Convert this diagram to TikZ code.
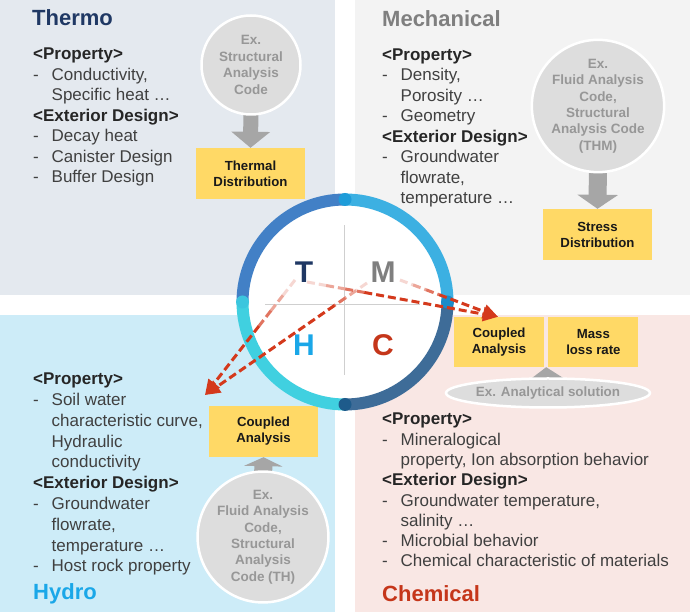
\documentclass[tikz,border=0pt]{standalone}
\usepackage{fontspec}
\setmainfont{Liberation Sans}
\usepackage{xcolor}
\usetikzlibrary{positioning, arrows.meta, calc, shapes.geometric}

\definecolor{thermobg}{HTML}{E4E9EF}
\definecolor{mechbg}{HTML}{F3F3F3}
\definecolor{hydrobg}{HTML}{CDECF8}
\definecolor{chembg}{HTML}{F9E7E4}
\definecolor{navy}{HTML}{1F3864}
\definecolor{mgray}{HTML}{7F7F7F}
\definecolor{hblue}{HTML}{1AA7E8}
\definecolor{cred}{HTML}{C5361A}
\definecolor{arrred}{HTML}{D4391C}
\definecolor{boxyellow}{HTML}{FFD966}
\definecolor{circgray}{HTML}{DDDDDD}
\definecolor{circtext}{HTML}{979797}
\definecolor{arrgray}{HTML}{A6A6A6}
\definecolor{bodytext}{HTML}{404040}
\definecolor{headtext}{HTML}{262626}
\definecolor{linegray}{HTML}{CFCFCF}
\definecolor{ringtl}{HTML}{4280C6}
\definecolor{ringtr}{HTML}{3CB0E2}
\definecolor{ringbr}{HTML}{3E6C98}
\definecolor{ringbl}{HTML}{40D0E0}
\definecolor{dott}{HTML}{1E9CD9}
\definecolor{dotl}{HTML}{3CC6DE}
\definecolor{dotr}{HTML}{1A8CCB}
\definecolor{dotb}{HTML}{1E5B8B}

\newcommand{\itemdash}{\makebox[18.5pt][l]{-}}
\newcommand{\itemgap}{\hspace*{18.5pt}}
\newcommand{\hdr}[1]{\textcolor{headtext}{\textbf{#1}}}

\tikzset{
  bodytxt/.style={anchor=base west, align=left, inner sep=0pt, text=bodytext,
    font=\fontsize{17}{20.5}\selectfont},
  title/.style={anchor=base west, inner sep=0pt, font=\fontsize{22}{22}\selectfont\bfseries},
  ybox/.style={fill=boxyellow, minimum width=109pt, minimum height=51pt, align=center,
    inner sep=0pt, text=black!90, font=\fontsize{13.2}{16}\selectfont\bfseries},
  gcirc/.style={circle, fill=circgray, draw=white, line width=2.5pt, inner sep=0pt,
    align=center, text=circtext, font=\fontsize{13.5}{16.4}\selectfont\bfseries},
  gell/.style={ellipse, fill=circgray, draw=white, line width=2.5pt, inner sep=0pt,
    minimum width=188pt, minimum height=29pt, text=circtext,
    font=\fontsize{13.4}{16}\selectfont\bfseries},
  letter/.style={inner sep=0pt, font=\fontsize{30}{30}\selectfont\bfseries},
  reddash/.style={line width=3pt, dash pattern=on 8pt off 4pt},
  blockarr/.style={draw=arrgray}
}

\begin{document}
\begin{tikzpicture}[x=1pt, y=1pt]
    \useasboundingbox (0,0) rectangle (691,613);

    % quadrants
    \fill[thermobg] (0,318) rectangle (335,613);
    \fill[mechbg] (355,318) rectangle (690,613);
    \fill[hydrobg] (0,1) rectangle (335,298);
    \fill[chembg] (355,1) rectangle (690,298);

    % titles and lists (base = last line)
    \node[title, text=navy] (thtitle) at (32,587) {Thermo};
    \node[title, text=mgray] (metitle) at (382,586) {Mechanical};
    \node[title, text=hblue] (hytitle) at (33,13) {Hydro};
    \node[title, text=cred] (chtitle) at (382,11) {Chemical};

    \node[bodytxt] (thtxt) at (33,430) {\hdr{<Property>}\\
        \itemdash Conductivity,\\
        \itemgap Specific heat …\\
        \hdr{<Exterior Design>}\\
        \itemdash Decay heat\\
        \itemdash Canister Design\\
        \itemdash Buffer Design};
    \node[bodytxt] (metxt) at (382,409) {\hdr{<Property>}\\
        \itemdash Density,\\
        \itemgap Porosity …\\
        \itemdash Geometry\\
        \hdr{<Exterior Design>}\\
        \itemdash Groundwater\\
        \itemgap flowrate,\\
        \itemgap temperature …};
    \node[bodytxt, font=\fontsize{17}{20.8}\selectfont] (hytxt) at (33,41) {\hdr{<Property>}\\
        \itemdash Soil water\\
        \itemgap characteristic curve,\\
        \itemgap Hydraulic\\
        \itemgap conductivity\\
        \hdr{<Exterior Design>}\\
        \itemdash Groundwater\\
        \itemgap flowrate,\\
        \itemgap temperature …\\
        \itemdash Host rock property};
    \node[bodytxt, font=\fontsize{17}{20.3}\selectfont] (chtxt) at (382,46) {\hdr{<Property>}\\
        \itemdash Mineralogical\\
        \itemgap property, Ion absorption behavior\\
        \hdr{<Exterior Design>}\\
        \itemdash Groundwater temperature,\\
        \itemgap salinity …\\
        \itemdash Microbial behavior\\
        \itemdash Chemical characteristic of materials};

    % results and codes
    \node[ybox] (thbox) at (250.5,439.5) {Thermal\\Distribution};
    \node[ybox] (stbox) at (597.5,378.5) {Stress\\Distribution};
    \node[ybox, minimum width=90pt, minimum height=50pt] (cpbox) at (499,271) {Coupled\\Analysis};
    \node[ybox, minimum width=90pt, minimum height=50pt, right=4pt of cpbox] (msbox) {Mass\\loss rate};
    \node[ybox] (hybox) at (263.5,181.5) {Coupled\\Analysis};

    \coordinate (thc) at (251,548);
    \coordinate (mec) at (598,507);
    \coordinate (hyc) at (263,76);
    \coordinate (anc) at (548,220);

    % gray block arrows
    \draw[blockarr, line width=15pt, -{Triangle[length=16pt, width=38pt]}] ([yshift=-40pt]thc) -- (thbox.north);
    \draw[blockarr, line width=18pt, -{Triangle[length=14pt, width=40pt]}] ([yshift=-55pt]mec) -- (stbox.north);
    \draw[blockarr, line width=18pt, -{Triangle[length=9pt, width=38pt]}] ([yshift=55pt]hyc) -- (hybox.south);
    \fill[arrgray] ([shift={(-20,12)}]anc) -- ([shift={(20,12)}]anc)
        -- ($(cpbox.south east)!0.5!(msbox.south west)$) -- cycle;

    \node[gcirc, minimum size=99pt] (thcirc) at (thc) {Ex.\\Structural\\Analysis\\Code};
    \node[gcirc, minimum size=129pt] (mecirc) at (mec) {Ex.\\Fluid Analysis\\Code,\\Structural\\Analysis Code\\(THM)};
    \node[gcirc, minimum size=127pt] (hycirc) at (hyc) {Ex.\\Fluid Analysis\\Code,\\Structural\\Analysis\\Code (TH)};
    \node[gell] (anell) at (anc) {Ex. Analytical solution};

    % THMC ring
    \coordinate (ctr) at (345,311);
    \fill[white] (ctr) circle[radius=108];
    \draw[linegray, line width=0.8pt] (344,238) -- (344,388);
    \draw[linegray, line width=0.8pt] (265,309) -- (420,309);
    \foreach \s/\c in {0/ringtr, 90/ringtl, 180/ringbl, 270/ringbr}
        \draw[\c, line width=12pt] ($(ctr)+(\s:102.5)$) arc[start angle=\s, end angle=\s+90, radius=102.5];
    \foreach \s/\c in {0/dotr, 90/dott, 180/dotl, 270/dotb}
        \fill[\c] ($(ctr)+(\s:102.5)$) circle[radius=6.5];

    \node[letter, text=navy] (tT) at (304,341) {T};
    \node[letter, text=mgray] (tM) at (383,341) {M};
    \node[letter, text=hblue] (tH) at (304,268) {H};
    \node[letter, text=cred] (tC) at (383,268) {C};

    % coupling arrows
    \coordinate (tl) at ([shift={(-9,-8)}]tT.center);
    \coordinate (tr) at ([shift={(3,-10)}]tT.center);
    \coordinate (ml) at ([shift={(-16,-11)}]tM.center);
    \coordinate (mr) at ([shift={(17,-8)}]tM.center);
    \coordinate (htip) at (205,218);
    \coordinate (ctip) at ([xshift=-1pt]cpbox.north);
    \foreach \a/\b/\f in {tl/htip/0.4, ml/htip/0.2, tr/ctip/0.3, mr/ctip/0.4} {
        \foreach \i/\c in {0/20, 1/45, 2/70} {
            \pgfmathsetmacro{\p}{\f*\i/3}
            \pgfmathsetmacro{\q}{\f*(\i+1)/3}
            \draw[reddash, arrred!\c] ($(\a)!\p!(\b)$) -- ($(\a)!\q!(\b)$);
        }
        \draw[reddash, arrred, -{Triangle[length=15pt, width=14pt]}] ($(\a)!\f!(\b)$) -- (\b);
    }
\end{tikzpicture}
\end{document}
